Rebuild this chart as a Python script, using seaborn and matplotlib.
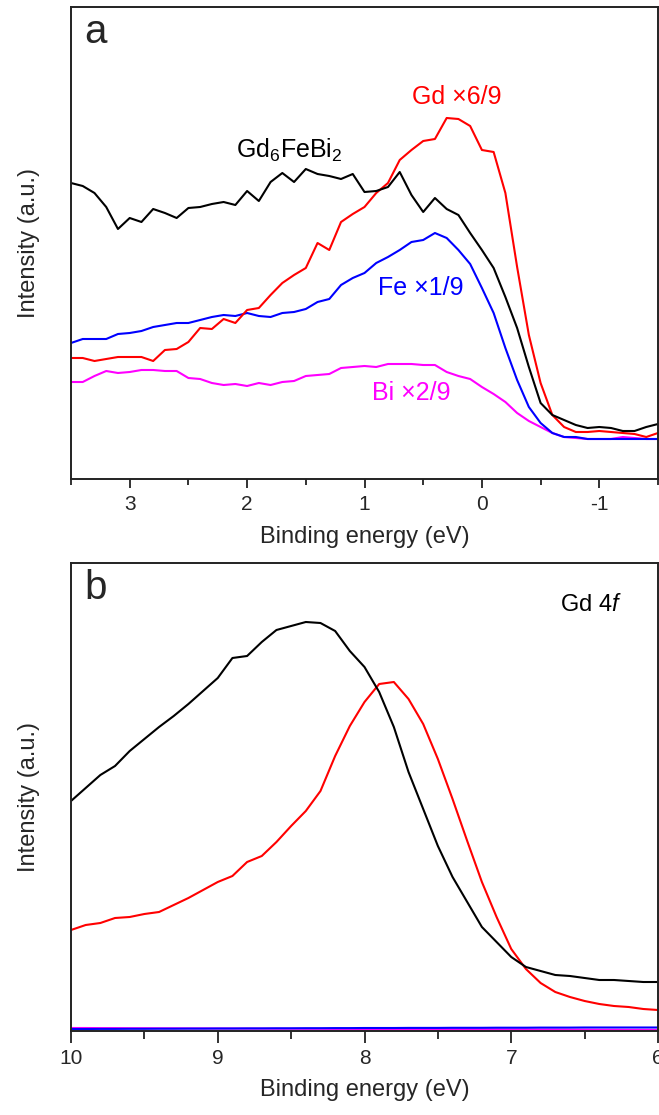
import numpy as np
import pandas as pd
import matplotlib
matplotlib.use("Agg")
import matplotlib.pyplot as plt
import seaborn as sns
from matplotlib.ticker import MultipleLocator, NullLocator

# ---------------- data ----------------
energy_a = [3.5, 3.4, 3.3, 3.2, 3.1, 3.0, 2.9, 2.8, 2.7, 2.6, 2.5, 2.4, 2.3, 2.2, 2.1, 2.0,
            1.9, 1.8, 1.7, 1.6, 1.5, 1.4, 1.3, 1.2, 1.1, 1.0, 0.9, 0.8, 0.7, 0.6, 0.5, 0.4,
            0.3, 0.2, 0.1, 0.0, -0.1, -0.2, -0.3, -0.4, -0.5, -0.6, -0.7, -0.8, -0.9, -1.0,
            -1.1, -1.2, -1.3, -1.4, -1.5]
total_a = [296, 293, 286, 272, 250, 261, 257, 270, 266, 261, 271, 272, 275, 277, 274, 288,
           278, 297, 306, 297, 310, 305, 303, 300, 305, 287, 288, 292, 307, 284, 267, 281,
           270, 264, 246, 229, 211, 182, 151, 112, 76, 64, 59, 54, 51, 52,
           51, 48, 48, 52, 55]
gd_a = [121, 121, 118, 120, 122, 122, 122, 118, 129, 130, 137, 151, 150, 160, 156, 169,
        171, 184, 196, 204, 211, 236, 229, 257, 265, 272, 286, 296, 319, 329, 338, 340,
        361, 360, 353, 329, 327, 286, 212, 144, 96, 64, 52, 47, 47, 48,
        47, 46, 45, 42, 46]
fe_a = [136, 140, 140, 140, 145, 146, 148, 152, 154, 156, 156, 159, 162, 164, 163, 166,
        163, 162, 166, 167, 170, 177, 180, 194, 201, 206, 216, 222, 229, 237, 239, 246,
        241, 229, 215, 191, 166, 131, 99, 72, 56, 46, 42, 42, 40, 40,
        40, 40, 40, 40, 40]
bi_a = [97, 97, 103, 108, 106, 107, 109, 109, 108, 108, 101, 100, 96, 94, 95, 93,
        96, 94, 97, 98, 103, 104, 105, 111, 112, 113, 112, 115, 115, 115, 114, 114,
        107, 103, 100, 92, 85, 77, 66, 58, 52, 46, 42, 41, 40, 40,
        40, 42, 41, 40, 40]

energy_b = [10.0, 9.9, 9.8, 9.7, 9.6, 9.5, 9.4, 9.3, 9.2, 9.1, 9.0, 8.9, 8.8, 8.7, 8.6,
            8.5, 8.4, 8.3, 8.2, 8.1, 8.0, 7.9, 7.8, 7.7, 7.6, 7.5, 7.4, 7.3, 7.2, 7.1,
            7.0, 6.9, 6.8, 6.7, 6.6, 6.5, 6.4, 6.3, 6.2, 6.1, 6.0]
total_b = [230, 243, 256, 265, 280, 292, 304, 315, 327, 340, 353, 373, 375, 389, 401,
           405, 409, 408, 400, 380, 364, 339, 304, 259, 222, 185, 154, 129, 104, 89,
           74, 64, 60, 56, 55, 53, 51, 51, 50, 49, 49]
gd_b = [101, 106, 108, 113, 114, 117, 119, 126, 133, 141, 149, 155, 169, 175, 189,
        205, 220, 240, 275, 305, 329, 347, 349, 332, 307, 272, 232, 190, 149, 114,
        82, 62, 48, 39, 34, 30, 27, 25, 24, 22, 21]
fe_b = [2.0, 2.0, 2.1, 2.1, 2.2, 2.2, 2.3, 2.3, 2.4, 2.4, 2.5, 2.5, 2.6, 2.6, 2.7,
        2.7, 2.8, 2.8, 2.9, 2.9, 3.0, 3.0, 3.0, 3.1, 3.1, 3.1, 3.2, 3.2, 3.2, 3.3,
        3.3, 3.3, 3.4, 3.4, 3.4, 3.5, 3.5, 3.5, 3.5, 3.5, 3.5]
bi_b = [3.0, 3.0, 2.9, 2.9, 2.8, 2.8, 2.7, 2.7, 2.6, 2.6, 2.5, 2.5, 2.4, 2.4, 2.3,
        2.3, 2.2, 2.2, 2.1, 2.1, 2.0, 2.0, 1.9, 1.9, 1.8, 1.8, 1.7, 1.7, 1.6, 1.6,
        1.5, 1.5, 1.4, 1.4, 1.3, 1.3, 1.2, 1.2, 1.1, 1.1, 1.0]

series_colors = {"total": "#000000", "gd": "#ff0000", "fe": "#0000ff", "bi": "#ff00ff"}

# ---------------- style ----------------
sns.set_theme(style="white")
plt.rcParams['font.family'] = ['Liberation Sans', 'DejaVu Sans']
plt.rcParams['mathtext.fontset'] = 'custom'
plt.rcParams['mathtext.rm'] = 'Liberation Sans'
plt.rcParams['mathtext.it'] = 'Liberation Sans:italic'

W, H = 659, 1115
fig = plt.figure(figsize=(W / 100, H / 100), dpi=100)
fig.patch.set_facecolor("white")

def frac_axes(left, top, right, bottom):
    return fig.add_axes([left / W, (H - bottom) / H, (right - left) / W, (bottom - top) / H])

ax_a = frac_axes(71, 7, 658, 479)
ax_b = frac_axes(71, 563, 658, 1031)

df_a = pd.DataFrame({"energy": energy_a, "total": total_a, "gd": gd_a, "fe": fe_a, "bi": bi_a})
df_b = pd.DataFrame({"energy": energy_b, "total": total_b, "gd": gd_b, "fe": fe_b, "bi": bi_b})

for ax, df in ((ax_a, df_a), (ax_b, df_b)):
    for key in ["bi", "fe", "gd", "total"]:
        sns.lineplot(data=df, x="energy", y=key, color=series_colors[key], lw=1.5,
                     ax=ax, legend=False, sort=False)

ax_a.set_xlim(3.5, -1.5)
ax_a.set_ylim(0, 472)
ax_b.set_xlim(10, 6)
ax_b.set_ylim(0, 468)

tick_len = {ax_a: (6.3, 4.0), ax_b: (8.5, 5.5)}
tick_pad = {ax_a: 5.5, ax_b: 4.5}
for ax in (ax_a, ax_b):
    ax.xaxis.set_major_locator(MultipleLocator(1))
    ax.xaxis.set_minor_locator(MultipleLocator(0.5))
    ax.yaxis.set_major_locator(NullLocator())
    ax.tick_params(axis="x", which="major", direction="out", length=tick_len[ax][0], width=1.3,
                   color="#222222", labelsize=15, pad=tick_pad[ax], bottom=True, top=False)
    ax.tick_params(axis="x", which="minor", direction="out", length=tick_len[ax][1], width=1.3,
                   color="#222222", bottom=True, top=False)
    for s in ax.spines.values():
        s.set_visible(True)
        s.set_color("#222222")
        s.set_linewidth(1.4)
    ax.set_xlabel("Binding energy (eV)", fontsize=17, labelpad=8)
    ax.set_ylabel("Intensity (a.u.)", fontsize=17, labelpad=22)
    ax.set_facecolor("white")

ax_a.set_xticks([3, 2, 1, 0, -1])
ax_a.set_xticklabels(["3", "2", "1", "0", "-1"])

# annotations
ax_a.text(0.022, 0.947, "a", transform=ax_a.transAxes, fontsize=29, ha="left", va="center")
ax_a.text(0.372, 0.697, r"Gd$_6$FeBi$_2$", transform=ax_a.transAxes, fontsize=18,
          ha="center", va="center", color="black")
ax_a.text(0.658, 0.809, "Gd \u00d76/9", transform=ax_a.transAxes, fontsize=18,
          ha="center", va="center", color=series_colors["gd"])
ax_a.text(0.595, 0.405, "Fe \u00d71/9", transform=ax_a.transAxes, fontsize=18,
          ha="center", va="center", color=series_colors["fe"])
ax_a.text(0.580, 0.182, "Bi \u00d72/9", transform=ax_a.transAxes, fontsize=18,
          ha="center", va="center", color=series_colors["bi"])

ax_b.text(0.022, 0.947, "b", transform=ax_b.transAxes, fontsize=29, ha="left", va="center")
ax_b.text(0.886, 0.91, r"Gd 4$\it{f}$", transform=ax_b.transAxes, fontsize=17,
          ha="center", va="center", color="black")

fig.savefig("out.png", dpi=100, facecolor="white")
